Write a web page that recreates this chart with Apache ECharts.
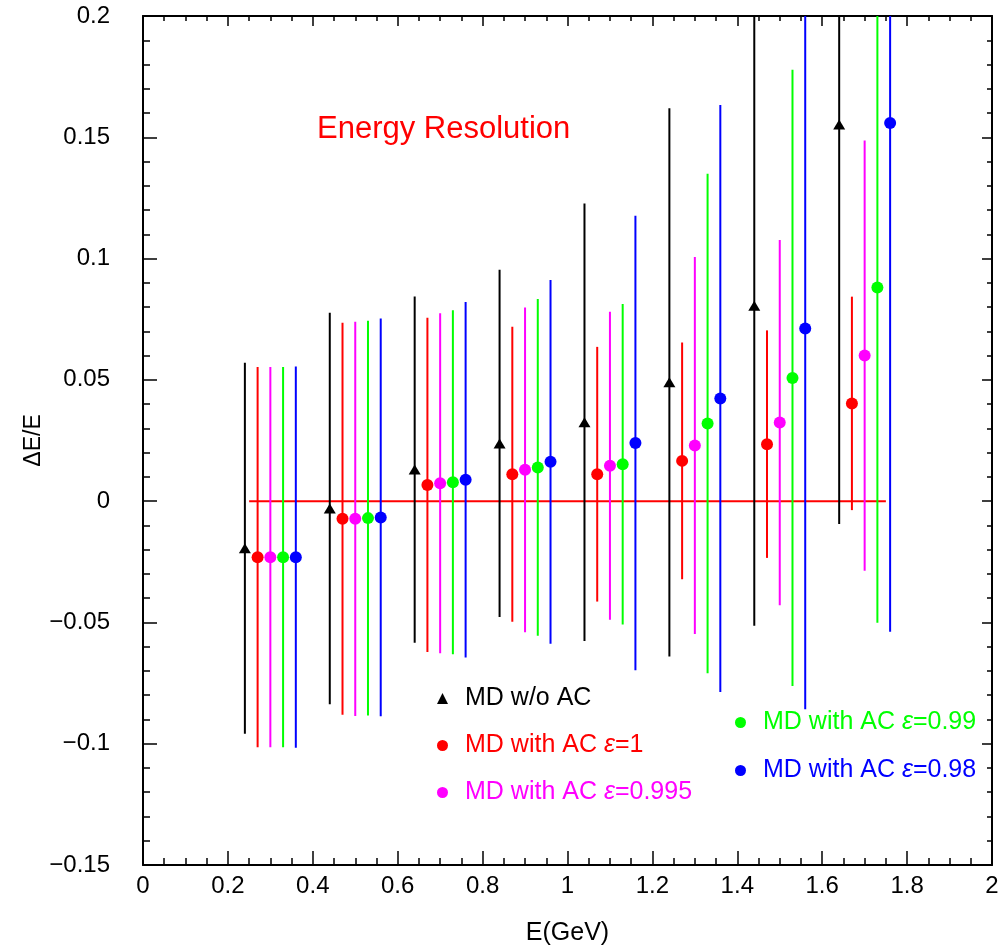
<!DOCTYPE html>
<html>
<head>
<meta charset="utf-8">
<script src="https://cdn.jsdelivr.net/npm/echarts@6/dist/echarts.min.js"></script>
<style>
  html, body { margin: 0; padding: 0; background: #fff; }
  #chart { width: 1003px; height: 951px; }
</style>
</head>
<body>
<div id="chart"></div>
<script>
// energies (GeV) of each point, per sample
var xBlack   = [0.24, 0.44, 0.64, 0.84, 1.04, 1.24, 1.44, 1.64]
var xRed     = [0.27, 0.47, 0.67, 0.87, 1.07, 1.27, 1.47, 1.67]
var xMagenta = [0.30, 0.50, 0.70, 0.90, 1.10, 1.30, 1.50, 1.70]
var xGreen   = [0.33, 0.53, 0.73, 0.93, 1.13, 1.33, 1.53, 1.73]
var xBlue    = [0.36, 0.56, 0.76, 0.96, 1.16, 1.36, 1.56, 1.76]

// dE/E and its error
var yBlack   = [-0.0194, -0.0030, 0.0130, 0.0238, 0.0325, 0.0490, 0.0806, 0.1553]
var eBlack   = [0.0765, 0.0807, 0.0714, 0.0716, 0.0902, 0.1130, 0.1320, 0.1647]
var yRed     = [-0.0231, -0.0073, 0.0067, 0.0111, 0.0111, 0.0166, 0.0235, 0.0403]
var eRed     = [0.0784, 0.0808, 0.0689, 0.0608, 0.0525, 0.0488, 0.0469, 0.0440]
var yMagenta = [-0.0231, -0.0073, 0.0074, 0.0129, 0.0146, 0.0229, 0.0324, 0.0600]
var eMagenta = [0.0784, 0.0813, 0.0701, 0.0669, 0.0635, 0.0777, 0.0753, 0.0887]
var yGreen   = [-0.0231, -0.0070, 0.0078, 0.0139, 0.0152, 0.0320, 0.0508, 0.0881]
var eGreen   = [0.0784, 0.0814, 0.0709, 0.0694, 0.0661, 0.1030, 0.1270, 0.1382]
var yBlue    = [-0.0231, -0.0067, 0.0088, 0.0162, 0.0240, 0.0423, 0.0712, 0.1559]
var eBlue    = [0.0786, 0.0820, 0.0733, 0.0750, 0.0937, 0.1210, 0.1570, 0.2097]

// reference line at zero
var xLine = [0.25, 1.75]
var yLine = [0, 0]

var Y_MIN = -0.15
var Y_MAX = 0.2
var FONT = 'Liberation Sans'

var chart = echarts.init(document.getElementById('chart'))

function points(xs, ys) {
  return xs.map(function(x, i) { return [x, ys[i]] })
}
function bars(xs, ys, es) {
  return xs.map(function(x, i) { return [x, ys[i] - es[i], ys[i] + es[i]] })
}
function renderBar(params, api) {
  var lo = Math.max(api.value(1), Y_MIN)
  var hi = Math.min(api.value(2), Y_MAX)
  var p1 = api.coord([api.value(0), lo])
  var p2 = api.coord([api.value(0), hi])
  return {
    type: 'line',
    shape: { x1: p1[0], y1: p1[1], x2: p2[0], y2: p2[1] },
    style: { stroke: api.visual('color'), lineWidth: 2 }
  }
}

var samples = [
  { name: 'MD w/o AC', color: '#000000', symbol: 'triangle', x: xBlack, y: yBlack, e: eBlack },
  { name: 'MD with AC ε=1', color: '#ff0000', symbol: 'circle', x: xRed, y: yRed, e: eRed },
  { name: 'MD with AC ε=0.995', color: '#ff00ff', symbol: 'circle', x: xMagenta, y: yMagenta, e: eMagenta },
  { name: 'MD with AC ε=0.99', color: '#00ff00', symbol: 'circle', x: xGreen, y: yGreen, e: eGreen },
  { name: 'MD with AC ε=0.98', color: '#0000ff', symbol: 'circle', x: xBlue, y: yBlue, e: eBlue }
]

var series = [{
  type: 'line',
  data: points(xLine, yLine),
  symbol: 'none',
  lineStyle: { color: '#ff0000', width: 2 },
  silent: true,
  z: 1
}]
samples.forEach(function(s) {
  series.push({
    type: 'custom',
    name: s.name + ' err',
    data: bars(s.x, s.y, s.e),
    renderItem: renderBar,
    itemStyle: { color: s.color },
    encode: { x: 0, y: [1, 2] },
    z: 2
  })
  series.push({
    type: 'scatter',
    name: s.name,
    data: points(s.x, s.y),
    symbol: s.symbol,
    symbolSize: s.symbol === 'triangle' ? [12, 10] : 12,
    itemStyle: { color: s.color, opacity: 1 },
    z: 3
  })
})

function legendItem(s) {
  return { name: s.name, icon: s.symbol, itemStyle: { color: s.color, opacity: 1 }, textStyle: { color: s.color } }
}
var legendText = {
  fontFamily: FONT,
  fontSize: 25,
  lineHeight: 27,
  padding: [0, 0, 0, 12],
  rich: { i: { fontStyle: 'italic', fontFamily: FONT, fontSize: 25 } }
}
function legendFormatter(name) {
  return name.replace('ε', '{i|ε}')
}

var tickLabel = function(v) {
  return String(v).replace('-', '\u2212')
}

function frameAxis(pos, len) {
  return {
    axisLine: { onZero: false, lineStyle: { color: '#000', width: 2 } },
    axisTick: { inside: true, length: len, lineStyle: { color: '#000', width: 1.5 } },
    minorTick: { show: true, length: len / 2, lineStyle: { color: '#000', width: 1.5 } },
    splitLine: { show: false },
    position: pos
  }
}

var xBottom = frameAxis('bottom', 14)
var xTop = frameAxis('top', 10)
var yLeft = frameAxis('left', 14)
var yRight = frameAxis('right', 10)
;[xBottom, xTop].forEach(function(a) {
  a.type = 'value'; a.min = 0; a.max = 2; a.interval = 0.2; a.minorTick.splitNumber = 4
})
;[yLeft, yRight].forEach(function(a) {
  a.type = 'value'; a.min = Y_MIN; a.max = Y_MAX; a.interval = 0.05; a.minorTick.splitNumber = 5
})
xBottom.name = 'E(GeV)'
xBottom.nameLocation = 'middle'
xBottom.nameGap = 56
xBottom.nameMoveOverlap = false
xBottom.nameTextStyle = { fontFamily: FONT, fontSize: 25, color: '#000' }
xBottom.axisLabel = { margin: 9, fontFamily: FONT, fontSize: 24, color: '#000', formatter: tickLabel }
xTop.axisLabel = { show: false }
yLeft.name = 'ΔE/E'
yLeft.nameLocation = 'middle'
yLeft.nameGap = 98
yLeft.nameMoveOverlap = false
yLeft.nameTextStyle = { fontFamily: FONT, fontSize: 23, color: '#000' }
yLeft.axisLabel = { margin: 33, fontFamily: FONT, fontSize: 24, color: '#000', formatter: tickLabel }
yRight.axisLabel = { show: false }

var option = {
  animation: false,
  title: {
    text: 'Energy Resolution',
    left: 312,
    top: 109,
    textStyle: { color: '#ff0000', fontFamily: FONT, fontSize: 31, fontWeight: 'normal' }
  },
  legend: [{
    orient: 'vertical',
    left: 432,
    top: 680,
    itemWidth: 11,
    itemHeight: 11,
    itemGap: 20,
    data: [legendItem(samples[0]), legendItem(samples[1]), legendItem(samples[2])],
    formatter: legendFormatter,
    textStyle: legendText,
    selectedMode: false
  }, {
    orient: 'vertical',
    left: 730,
    top: 704,
    itemWidth: 11,
    itemHeight: 11,
    itemGap: 21,
    data: [legendItem(samples[3]), legendItem(samples[4])],
    formatter: legendFormatter,
    textStyle: legendText,
    selectedMode: false
  }],
  grid: { left: 143, top: 16, right: 11, bottom: 85 },
  xAxis: [xBottom, xTop],
  yAxis: [yLeft, yRight],
  series: series
}
chart.setOption(option)
</script>
</body>
</html>
